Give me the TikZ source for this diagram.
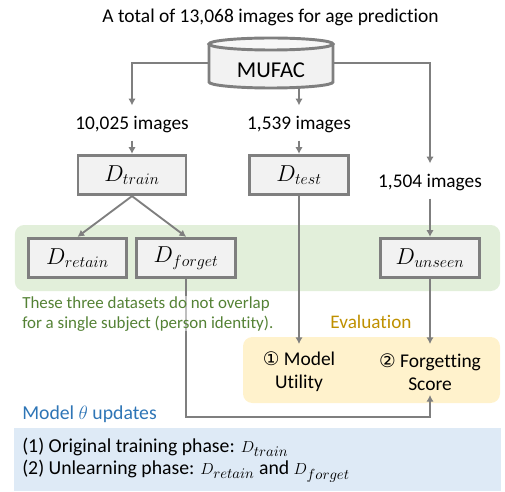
\documentclass[tikz,border=0pt]{standalone}
\usepackage{fontspec}
\usepackage{xcolor}
\setmainfont[Ligatures=NoCommon]{Carlito}
\newfontfamily\symfont{DejaVu Sans}
\usetikzlibrary{positioning,arrows.meta}
\DeclareMathSizes{16}{16}{12.5}{9}
\DeclareMathSizes{13}{13}{10.5}{8}
\definecolor{linegray}{HTML}{7F7F7F}
\definecolor{boxfill}{HTML}{F2F2F2}
\definecolor{panelgreen}{HTML}{E2EFDA}
\definecolor{panelyellow}{HTML}{FFF2CC}
\definecolor{panelblue}{HTML}{DEEAF6}
\definecolor{textgreen}{HTML}{548235}
\definecolor{textorange}{HTML}{BF9000}
\definecolor{textblue}{HTML}{2E75B6}
\newcommand{\phasemath}[1]{{\fontsize{13}{17}\selectfont$#1$}}
\newcommand{\circled}[1]{{\symfont\fontsize{14}{17}\selectfont #1}}
\tikzset{
    dataset/.style={draw=linegray, line width=2.2pt, fill=boxfill, inner sep=0pt, minimum width=74pt, minimum height=29.5pt, font=\fontsize{16}{18}\selectfont},
    count/.style={inner sep=0pt, minimum height=26pt, text depth=0pt, font=\fontsize{14.5}{16}\selectfont},
    flow/.style={draw=linegray, line width=1.4pt, -{Latex[length=5pt,width=5.5pt]}},
    drum/.style={draw=linegray, line width=2.2pt, fill=boxfill},
    panel/.style={inner sep=0pt, rounded corners=7pt},
    metric/.style={align=center, inner sep=0pt, font=\fontsize{14.6}{17}\selectfont}
}
\begin{document}
\begin{tikzpicture}[x=0.75pt, y=-0.75pt, node distance=39pt]
    \useasboundingbox (0,0) rectangle (505,491);
    % panels
    \node [panel, fill=panelgreen, minimum width=364pt, minimum height=49.5pt] (greenpanel) at (257.5,258) {};
    \node [panel, fill=panelyellow, minimum width=192.75pt, minimum height=49.5pt] (yellowpanel) at (371.5,370) {};
    \node [fill=panelblue, inner sep=0pt, minimum width=365.25pt, minimum height=47.25pt] (bluepanel) at (257,459.5) {};

    \node [font=\fontsize{14.6}{16}\selectfont, inner sep=0pt] (title) at (270.5,17) {A total of 13,068 images for age prediction};

    % database drum
    \node [inner sep=0pt, minimum width=93pt, minimum height=37.5pt] (mufac) at (271,63) {};
    \draw [drum] (209,44) -- (209,82) arc [x radius=46.5pt, y radius=4.5pt, start angle=180, end angle=360] -- (333,44);
    \draw [drum, fill=boxfill!60!white] (271,44) ellipse [x radius=46.5pt, y radius=4.5pt];
    \node [font=\fontsize{17}{19}\selectfont, inner sep=0pt] (mufaclabel) at (271,70) {MUFAC};

    % left and middle branch
    \node [count] (ntrain) at (132,123) {10,025 images};
    \node [count, right of=ntrain, node distance=125.25pt] (ntest) {1,539 images};
    \node [count] (nunseen) at (430,181) {1,504 images};
    \node [dataset, minimum width=81pt, below of=ntrain] (dtrain) {$D_{train}$};
    \node [dataset, below of=ntest] (dtest) {$D_{test}$};
    \node [dataset] (dretain) at (77.5,258) {$D_{retain}$};
    \node [dataset, right of=dretain, node distance=81.5pt] (dforget) {$D_{forget}$};
    \node [dataset, below of=nunseen, node distance=57.75pt] (dunseen) {$D_{unseen}$};

    \node [metric] (utility) at (299,372) {\circled{①} Model\\Utility};
    \node [metric] (forgetting) at (430,372) {\circled{②} Forgetting\\Score};
    \coordinate (utilityin) at (299,344);
    \coordinate (forgettingin) at (430,344);
    \coordinate (forgettingout) at (430,395);

    % connectors
    \draw [flow] (mufac.west) -| (ntrain.north);
    \draw [flow] (mufac.south -| ntest.north) -- (ntest.north);
    \draw [flow] (mufac.east) -| (nunseen.north);
    \draw [flow] (ntrain.south) -- (dtrain.north);
    \draw [flow] (ntest.south) -- (dtest.north);
    \draw [flow] (nunseen.south) -- (dunseen.north);
    \draw [flow] (dtrain.south) -- (dretain.north);
    \draw [flow] (dtrain.south) -- (dforget.north);
    \draw [flow] (dtest.south) -- (utilityin);
    \draw [flow] (dunseen.south) -- (forgettingin);
    \draw [flow] (dforget.south) |- (430,417) -- (forgettingout);

    % notes
    \node [anchor=north west, align=left, text=textgreen, fill=white, fill opacity=0.5, text opacity=1, inner sep=0pt, font=\fontsize{12.7}{15}\selectfont] (note) at (22,296) {These three datasets do not overlap\\for a single subject (person identity).};
    \node [text=textorange, inner sep=0pt, font=\fontsize{14.4}{16}\selectfont] (evaluation) at (371,322) {Evaluation};
    \node [anchor=west, text=textblue, inner sep=0pt, font=\fontsize{14.8}{16}\selectfont] (updates) at (22,414) {Model $\theta$ updates};
    \node [anchor=west, align=left, inner sep=0pt, font=\fontsize{14.8}{17}\selectfont] (phases) at (22,460) {(1) Original training phase: \phasemath{D_{train}}\\(2) Unlearning phase: \phasemath{D_{retain}} and \phasemath{D_{forget}}};
\end{tikzpicture}
\end{document}
